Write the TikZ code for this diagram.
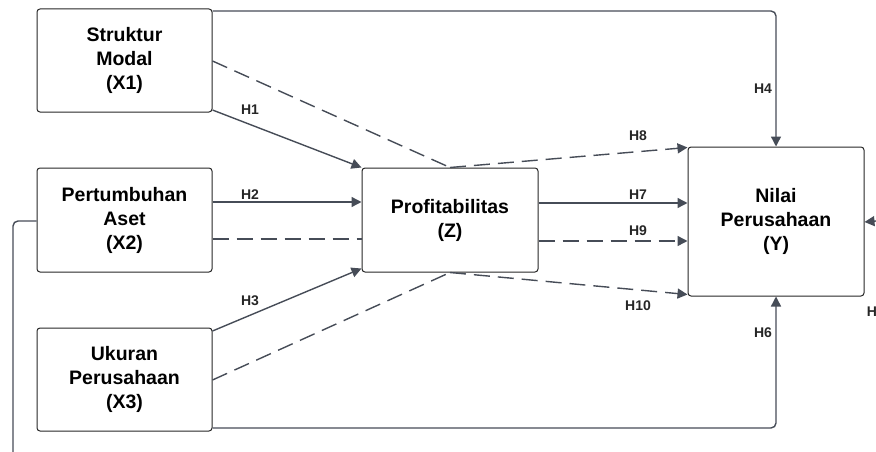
\documentclass[tikz,border=0pt]{standalone}
\usepackage{fontspec}
\setmainfont{Liberation Sans}
\usetikzlibrary{arrows.meta,calc}
\definecolor{edgecol}{HTML}{464C57}
\tikzset{
  box/.style={draw=black!85, line width=1pt, rounded corners=3pt, align=center, inner sep=0pt,
    font=\fontsize{19.5}{24}\selectfont\bfseries},
  conn/.style={draw=edgecol, line width=1.4pt},
  arr/.style={conn, -{Triangle[length=10pt,width=10pt]}},
  dsh/.style={dash pattern=on 16pt off 8pt},
  hlab/.style={font=\fontsize{14}{15}\selectfont\bfseries, text=black!85, inner sep=0pt},
}
\begin{document}
\begin{tikzpicture}[x=1pt,y=-1pt]
\useasboundingbox (0,0) rectangle (876,452);
\node[box, minimum width=175pt, minimum height=103pt] (X1) at (124.5,60.5) {Struktur\\Modal\\(X1)};
\node[box, minimum width=175pt, minimum height=104pt] (X2) at (124.5,220) {Pertumbuhan\\Aset\\(X2)};
\node[box, minimum width=175pt, minimum height=103pt] (X3) at (124.5,379.5) {Ukuran\\Perusahaan\\(X3)};
\node[box, minimum width=176pt, minimum height=104pt] (Z) at (450,220) {Profitabilitas\\(Z)};
\node[box, minimum width=176pt, minimum height=149pt] (Y) at (776,221.5) {Nilai\\Perusahaan\\(Y)};
\coordinate (c1) at (13,452);
\coordinate (c2) at (876,221);
% H4
\draw[arr, rounded corners=5pt] ([yshift=-2.5pt]X1.north east) -| (Y.north);
% dashed X1 -> Z top -> Y (H8)
\draw[conn, dsh] ([yshift=-0.5pt]X1.east) -- (Z.north);
\draw[arr, dsh] (Z.north) -- ([yshift=-1pt]Y.north west);
% H1
\draw[arr] ([yshift=-49.5pt]X1.east) -- (Z.north west);
% H2
\draw[arr] ([yshift=18pt]X2.east) -- ([yshift=18pt]Z.west);
% dashed X2 -> Z
\draw[conn, dsh] ([yshift=-19pt]X2.east) -- ([yshift=-19pt]Z.west);
% H3
\draw[arr] ([yshift=48.5pt]X3.east) -- ([yshift=4pt]Z.south west);
% dashed X3 -> Z bottom
\draw[conn, dsh] ([yshift=-0.5pt]X3.east) -- (Z.south);
% H10
\draw[arr, dsh] (Z.south) -- ([yshift=2pt]Y.south west);
% H7
\draw[arr] ([yshift=17pt]Z.east) -- ([yshift=17pt]Z.east -| Y.west);
% H9
\draw[arr, dsh] ([yshift=-21pt]Z.east) -- ([yshift=-21pt]Z.east -| Y.west);
% H6
\draw[arr, rounded corners=5pt] ([yshift=3.5pt]X3.south east) -| (Y.south);
% X2 left line
\draw[conn, rounded corners=5pt] ([yshift=-1pt]X2.west) -| (c1);
% right incoming arrow
\draw[arr] (c2) -- ([yshift=-0.5pt]Y.east);
% labels
\node[hlab] (l1) at (250,110) {H1};
\node[hlab] (l2) at (250,195) {H2};
\node[hlab] (l3) at (250,301) {H3};
\node[hlab] (l4) at (763,89) {H4};
\node[hlab] (l8) at (638,136) {H8};
\node[hlab] (l7) at (638,195) {H7};
\node[hlab] (l9) at (638,231) {H9};
\node[hlab] (l10) at (638,306) {H10};
\node[hlab] (l6) at (763,333) {H6};
\node[hlab] (l5) at (872,312) {H};
\end{tikzpicture}
\end{document}
